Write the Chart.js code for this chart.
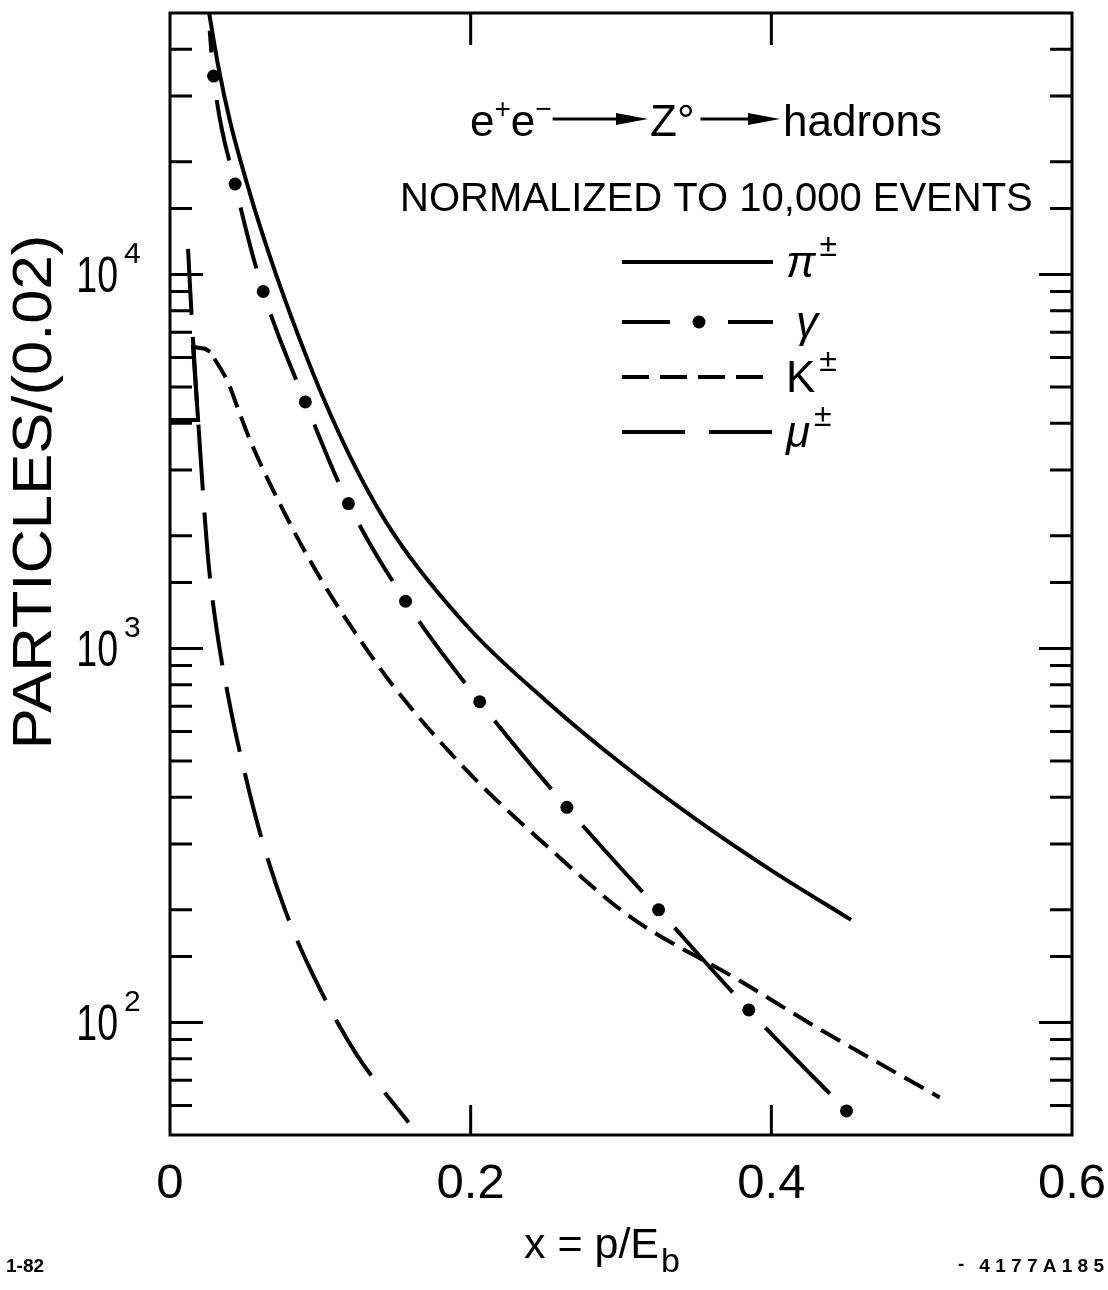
<!DOCTYPE html>
<html><head><meta charset="utf-8">
<script src="https://cdn.jsdelivr.net/npm/chart.js@4/dist/chart.umd.min.js"></script>
<style>html,body{margin:0;padding:0;background:#fff;}#wrap{width:1108px;height:1290px;}</style>
</head><body><div id="wrap"><canvas id="c" width="1108" height="1290"></canvas></div>
<script>
// ---- data ----
const xTickValues = [0, 0.2, 0.4, 0.6];
const yMajorValues = [100, 1000, 10000];
const yMajorExponents = ['2', '3', '4'];

const piX = [0.0250, 0.0320, 0.0400, 0.0533, 0.0633, 0.0767, 0.100, 0.125, 0.150, 0.200, 0.250, 0.300, 0.350, 0.400, 0.453];
const piY = [53000, 36200, 25600, 16400, 12200, 8510, 4880, 2960, 1990, 1120, 725, 493, 349, 255, 188];

const gammaX = [0.0252, 0.0290, 0.0433, 0.0620, 0.0900, 0.1187, 0.1567, 0.2060, 0.2640, 0.3250, 0.3850, 0.4500];
const gammaY = [52000, 33900, 17450, 9000, 4560, 2440, 1337, 720, 376, 200, 108, 58];

const kX = [0, 0.0187, 0.0153, 0.0233, 0.0267, 0.0387, 0.0453, 0.0533, 0.080, 0.100, 0.125, 0.150, 0.200, 0.250, 0.305, 0.378, 0.432, 0.512];
const kY = [4080, 4080, 6400, 6330, 6210, 5130, 4365, 3600, 2150, 1540, 1075, 780, 460, 298, 193, 130, 96, 63];
const kStepCount = 5; // leading solid (histogram-like) part of the K curve

const muX = [0.0120, 0.0147, 0.0187, 0.0250, 0.0300, 0.0400, 0.0500, 0.0600, 0.0767, 0.0947, 0.1233, 0.1587];
const muY = [11700, 7340, 4080, 1800, 1200, 700, 460, 320, 199, 135, 83, 54];

// ---- helpers ----
const pts = (xs, ys) => xs.map((x, i) => ({x: x, y: ys[i]}));
const FONT = '"Liberation Sans", Arial, "DejaVu Sans", sans-serif';
const gammaGap = 24;

const frameAndText = {
  id: 'frameAndText',
  afterDatasetsDraw(chart) {
    const ctx = chart.ctx, a = chart.chartArea;
    const xs = chart.scales.x, ys = chart.scales.y;
    ctx.save();
    ctx.strokeStyle = '#000';
    ctx.lineWidth = 3;
    ctx.lineCap = 'butt';
    ctx.strokeRect(a.left, a.top, a.right - a.left, a.bottom - a.top);
    ys.ticks.forEach(t => {
      const v = t.value;
      if (v <= ys.min || v >= ys.max) return;
      const y = ys.getPixelForValue(v);
      const lg = Math.log10(v);
      const len = Math.abs(lg - Math.round(lg)) < 1e-9 ? 33 : 22;
      ctx.beginPath();
      ctx.moveTo(a.left, y); ctx.lineTo(a.left + len, y);
      ctx.moveTo(a.right, y); ctx.lineTo(a.right - len, y);
      ctx.stroke();
    });
    xs.ticks.forEach(t => {
      const v = t.value;
      if (v <= xs.min + 1e-9 || v >= xs.max - 1e-9) return;
      const x = xs.getPixelForValue(v);
      ctx.beginPath();
      ctx.moveTo(x, a.bottom); ctx.lineTo(x, a.bottom - 30);
      ctx.moveTo(x, a.top); ctx.lineTo(x, a.top + 32);
      ctx.stroke();
    });
    ctx.restore();
  },
  afterDraw(chart) {
    const ctx = chart.ctx;
    const ys = chart.scales.y;
    ctx.save();
    ctx.fillStyle = '#000';
    ctx.strokeStyle = '#000';
    ctx.textBaseline = 'alphabetic';
    ctx.textAlign = 'left';

    // y tick labels 10^n
    yMajorValues.forEach((v, i) => {
      const y = ys.getPixelForValue(v);
      ctx.save();
      ctx.translate(118, y + 18);
      ctx.scale(0.75, 1);
      ctx.font = '50px ' + FONT;
      ctx.textAlign = 'right';
      ctx.fillText('10', 0, 0);
      ctx.restore();
      ctx.font = '30px ' + FONT;
      ctx.fillText(yMajorExponents[i], 124, y - 11);
    });

    // y axis title
    ctx.save();
    ctx.translate(36, 492);
    ctx.rotate(-Math.PI / 2);
    ctx.scale(1.1, 1);
    ctx.textAlign = 'center';
    ctx.textBaseline = 'middle';
    ctx.font = '56px ' + FONT;
    ctx.fillText('PARTICLES/(0.02)', 0, 0);
    ctx.restore();

    // x axis title  x = p/E_b
    let x = 524;
    ctx.font = '43px ' + FONT;
    ctx.fillText('x = p/E', x, 1258);
    x += ctx.measureText('x = p/E').width + 2;
    ctx.font = '34px ' + FONT;
    ctx.fillText('b', x, 1272);

    // title line 1
    const arrow = (x0, x1, y) => {
      ctx.lineWidth = 3;
      ctx.beginPath(); ctx.moveTo(x0, y); ctx.lineTo(x1 - 25, y); ctx.stroke();
      ctx.beginPath(); ctx.moveTo(x1 - 32, y - 6); ctx.lineTo(x1, y); ctx.lineTo(x1 - 32, y + 6); ctx.closePath(); ctx.fill();
    };
    const base = 136;
    x = 470;
    ctx.font = '44px ' + FONT; ctx.fillText('e', x, base); x += ctx.measureText('e').width;
    ctx.font = '28px ' + FONT; ctx.fillText('+', x, base - 18); x += ctx.measureText('+').width;
    ctx.font = '44px ' + FONT; ctx.fillText('e', x, base); x += ctx.measureText('e').width;
    ctx.font = '28px ' + FONT; ctx.fillText('\u2212', x, base - 18); x += ctx.measureText('\u2212').width;
    arrow(x + 1, 648, base - 17);
    x = 650;
    ctx.font = '44px ' + FONT; ctx.fillText('Z\u00B0', x, base); x += ctx.measureText('Z\u00B0').width;
    arrow(x + 6, 780, base - 17);
    ctx.font = '44px ' + FONT; ctx.fillText('hadrons', 783, base);

    // title line 2
    ctx.font = '40px ' + FONT;
    ctx.fillText('NORMALIZED TO 10,000 EVENTS', 400, 211);

    // legend
    const lx0 = 622, lx1 = 773;
    const rows = [262, 322, 377, 432];
    ctx.lineWidth = 4;
    ctx.lineCap = 'butt';
    ctx.beginPath(); ctx.moveTo(lx0, rows[0]); ctx.lineTo(lx1, rows[0]); ctx.stroke();
    ctx.beginPath(); ctx.moveTo(lx0, rows[1]); ctx.lineTo(670, rows[1]); ctx.moveTo(728, rows[1]); ctx.lineTo(lx1, rows[1]); ctx.stroke();
    ctx.beginPath(); ctx.arc(699, rows[1], 6.5, 0, Math.PI * 2); ctx.fill();
    ctx.setLineDash([27, 11]);
    ctx.beginPath(); ctx.moveTo(lx0, rows[2]); ctx.lineTo(lx1, rows[2]); ctx.stroke();
    ctx.setLineDash([63, 24]);
    ctx.beginPath(); ctx.moveTo(lx0, rows[3]); ctx.lineTo(lx1, rows[3]); ctx.stroke();
    ctx.setLineDash([]);

    const lab = (main, sup, y, italic, xm) => {
      ctx.font = (italic ? 'italic ' : '') + '44px ' + FONT;
      ctx.fillText(main, xm, y + 15);
      const w = ctx.measureText(main).width;
      if (sup) { ctx.font = '32px ' + FONT; ctx.fillText(sup, xm + w + 4, y - 6); }
    };
    lab('\u03C0', '\u00B1', rows[0], true, 786);
    lab('\u03B3', '', rows[1], true, 796);
    lab('K', '\u00B1', rows[2], false, 786);
    lab('\u03BC', '\u00B1', rows[3], true, 786);

    // footnotes
    ctx.font = 'bold 19px ' + FONT;
    ctx.fillText('1-82', 6, 1272);
    ctx.textAlign = 'right';
    ctx.fillText('4 1 7 7 A 1 8 5', 1104, 1272);
    ctx.textAlign = 'left';
    ctx.fillText('-', 958, 1270);
    ctx.restore();
  }
};

const lineBase = {
  showLine: true, pointRadius: 0, pointHoverRadius: 0, borderColor: '#000', backgroundColor: '#000',
  borderWidth: 4, fill: false, borderCapStyle: 'butt', borderJoinStyle: 'round'
};

new Chart(document.getElementById('c'), {
  type: 'scatter',
  data: {
    datasets: [
      Object.assign({}, lineBase, {label: 'π±', data: pts(piX, piY), cubicInterpolationMode: 'monotone'}),
      Object.assign({}, lineBase, {
        label: 'γ line', data: pts(gammaX, gammaY), cubicInterpolationMode: 'monotone',
        segment: {
          borderDash: c => {
            const L = Math.hypot(c.p1.x - c.p0.x, c.p1.y - c.p0.y);
            return [0, gammaGap, Math.max(L - 2 * gammaGap, 1), 5000];
          }
        }
      }),
      {label: 'γ', data: pts(gammaX.slice(1), gammaY.slice(1)), showLine: false, pointRadius: 6.5,
        pointHoverRadius: 6.5, pointBackgroundColor: '#000', pointBorderWidth: 0, borderColor: '#000'},
      Object.assign({}, lineBase, {label: 'K± step', data: pts(kX.slice(0, kStepCount), kY.slice(0, kStepCount)), tension: 0, borderJoinStyle: 'miter'}),
      Object.assign({}, lineBase, {label: 'K±', data: pts(kX.slice(kStepCount - 1), kY.slice(kStepCount - 1)),
        cubicInterpolationMode: 'monotone', borderDash: [22, 10], borderDashOffset: -8}),
      Object.assign({}, lineBase, {label: 'μ±', data: pts(muX, muY), cubicInterpolationMode: 'monotone', borderDash: [66, 22]})
    ]
  },
  options: {
    responsive: false,
    animation: false,
    devicePixelRatio: 1,
    layout: {padding: {top: 13, right: 36, left: 0, bottom: 0}},
    plugins: {legend: {display: false}, tooltip: {enabled: false}},
    events: [],
    scales: {
      x: {
        type: 'linear', min: 0, max: 0.6,
        grid: {display: false, drawTicks: false},
        border: {display: false},
        ticks: {
          stepSize: 0.2, padding: 20, color: '#000', font: {size: 49, family: FONT},
          maxRotation: 0,
          callback: v => { const r = Math.round(v * 10) / 10; return xTickValues.includes(r) ? (r === 0 ? '0' : r.toFixed(1)) : ''; }
        },
        afterFit: s => { s.height = 155; s.paddingLeft = 0; s.paddingRight = 0; }
      },
      y: {
        type: 'logarithmic', min: 50, max: 50000,
        grid: {display: false, drawTicks: false},
        border: {display: false},
        ticks: {display: false},
        afterFit: s => { s.width = 170; s.paddingTop = 0; s.paddingBottom = 0; }
      }
    }
  },
  plugins: [frameAndText]
});
</script>
</body></html>
